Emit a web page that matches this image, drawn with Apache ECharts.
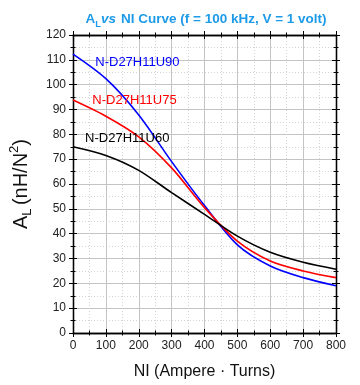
<!DOCTYPE html>
<html><head><meta charset="utf-8">
<script src="https://cdn.jsdelivr.net/npm/echarts@6/dist/echarts.min.js"></script>
<style>html,body{margin:0;padding:0;background:#fff}#c{width:360px;height:385px}</style>
</head><body><div id="c"></div>
<script>
const niValues = [0, 100, 200, 300, 400, 500, 600, 700, 800];
const u90 = [112.3, 102.4, 87.8, 69, 51.3, 35.5, 27, 22.3, 19];
const u75 = [93.8, 87.3, 79, 66.5, 50.5, 37, 29, 25, 22.3];
const u60 = [75, 71.5, 65.5, 56.5, 47.8, 39, 32.5, 28.5, 25.7];
const seriesNames = ['N-D27H11U90', 'N-D27H11U75', 'N-D27H11U60'];
const labelPos = [[196, 109], [187, 93.7], [165, 78.4]];
const colors = ['#0000ff', '#ff0000', '#000000'];

const FONT = '"Liberation Sans", Arial, sans-serif';
const chart = echarts.init(document.getElementById('c'));
const grid = {left: 71, right: 24, top: 35, bottom: 50};

function xAx(pos, inside, main) {
  return {
    type: 'value', min: 0, max: 800, interval: 100, position: pos,
    axisLine: {show: true, onZero: false, lineStyle: {color: '#000', width: 1.3}},
    axisTick: {show: true, inside: inside, length: 4, lineStyle: {color: '#000', width: 1}},
    minorTick: {show: true, splitNumber: 2, length: 2.5, lineStyle: {color: '#000', width: 1}},
    axisLabel: {show: main, margin: 7, color: '#222', fontSize: 12, fontFamily: FONT},
    splitLine: {show: main, lineStyle: {color: '#c4c4c4', width: 1}},
    minorSplitLine: {show: main, lineStyle: {color: '#d4d4d4', width: 1, type: [1, 2]}},
    name: main ? 'NI (Ampere · Turns)' : '', nameLocation: 'middle', nameGap: 31,
    nameTextStyle: {fontSize: 16, color: '#111', fontFamily: FONT}
  };
}
function yAx(pos, inside, main) {
  return {
    type: 'value', min: 0, max: 120, interval: 10, position: pos,
    axisLine: {show: true, onZero: false, lineStyle: {color: '#000', width: 1.3}},
    axisTick: {show: true, inside: inside, length: 4, lineStyle: {color: '#000', width: 1}},
    minorTick: {show: true, splitNumber: 2, length: 2.5, lineStyle: {color: '#000', width: 1}},
    axisLabel: {show: main, margin: 7, color: '#222', fontSize: 12, fontFamily: FONT},
    splitLine: {show: main, lineStyle: {color: '#c4c4c4', width: 1}},
    minorSplitLine: {show: main, lineStyle: {color: '#d4d4d4', width: 1, type: [1, 2]}},
    name: main ? '{a|A}{s|L} {a|(nH/N}{p|2}{a|)}' : '', nameLocation: 'middle', nameGap: 39, nameRotate: 90,
    nameTextStyle: {
      fontFamily: FONT, color: '#111', padding: [0, 0, 0, 0],
      rich: {
        a: {fontSize: 20, fontFamily: FONT, color: '#111', lineHeight: 26, verticalAlign: 'middle'},
        s: {fontSize: 13, fontFamily: FONT, color: '#111', lineHeight: 26, verticalAlign: 'bottom', padding: [12, 0, 0, 0]},
        p: {fontSize: 13, fontFamily: FONT, color: '#111', lineHeight: 26, verticalAlign: 'top', padding: [0, 0, 10, 0]}
      }
    }
  };
}

const allData = [u90, u75, u60];
const series = allData.map((vals, i) => ({
  name: seriesNames[i], type: 'line', smooth: 0.3, symbol: 'none',
  xAxisIndex: 0, yAxisIndex: 0,
  lineStyle: {color: colors[i], width: 1.6},
  data: niValues.map((x, j) => [x, vals[j]]),
  markPoint: {
    symbol: 'circle', symbolSize: 0, silent: true,
    data: [{coord: labelPos[i]}],
    label: {show: true, position: 'inside', formatter: seriesNames[i], color: colors[i], fontSize: 13, fontFamily: FONT}
  }
}));

chart.setOption({
  animation: false,
  title: {
    text: '{b|A}{sb|L}{it|vs} {b|NI Curve (f = 100 kHz, V = 1 volt)}',
    left: 201, top: 4, textAlign: 'center',
    textStyle: {
      rich: {
        b: {fontSize: 13.5, fontWeight: 'bold', color: '#1e9be8', fontFamily: FONT, lineHeight: 20},
        sb: {fontSize: 9.5, fontWeight: 'bold', color: '#1e9be8', fontFamily: FONT, lineHeight: 20, verticalAlign: 'bottom'},
        it: {fontSize: 13.5, fontWeight: 'bold', fontStyle: 'italic', color: '#1e9be8', fontFamily: FONT, lineHeight: 20}
      }
    }
  },
  grid: grid,
  xAxis: [xAx('bottom', false, true), xAx('bottom', true, false), xAx('top', false, false), xAx('top', true, false)],
  yAxis: [yAx('left', false, true), yAx('left', true, false), yAx('right', false, false), yAx('right', true, false)],
  series: series
});
</script></body></html>
